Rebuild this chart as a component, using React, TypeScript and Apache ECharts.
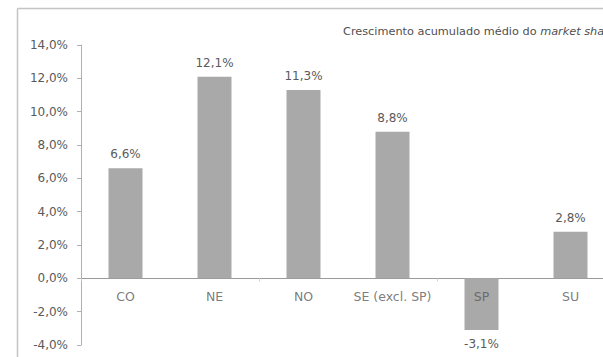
import React, { useEffect, useRef } from "react";
import * as echarts from "echarts";

const categories = ["CO", "NE", "NO", "SE (excl. SP)", "SP", "SU"];
const values = [6.6, 12.1, 11.3, 8.8, -3.1, 2.8];
const titleNormal = "Crescimento acumulado médio do ";
const titleItalic = "market share";

const FONT = "DejaVu Sans, Liberation Sans, sans-serif";
const fmt = (v: number) => v.toFixed(1).replace(".", ",") + "%";

export default function App() {
  const ref = useRef<HTMLDivElement>(null);
  useEffect(() => {
    if (!ref.current) return;
    const chart = echarts.init(ref.current, undefined, { renderer: "svg" });
    chart.setOption({
      animation: false,
      backgroundColor: "#ffffff",
      textStyle: { fontFamily: FONT },
      grid: { left: 81, right: 25, top: 45, bottom: 12, containLabel: false, outerBoundsMode: "none" },
      graphic: [
        {
          type: "line",
          shape: { x1: 17.5, y1: 8.5, x2: 640, y2: 8.5 },
          style: { stroke: "#c4c4c4", lineWidth: 1.5 },
        },
        {
          type: "line",
          shape: { x1: 17.5, y1: 8.5, x2: 17.5, y2: 357 },
          style: { stroke: "#c4c4c4", lineWidth: 1.5 },
        },
        {
          type: "text",
          left: 343,
          top: 26,
          style: {
            text: "{n|" + titleNormal + "}{i|" + titleItalic + "}",
            rich: {
              n: { fontSize: 11.3, fill: "#505050", fontFamily: FONT },
              i: { fontSize: 11.3, fill: "#505050", fontStyle: "italic", fontFamily: FONT },
            },
          },
        },
      ],
      xAxis: {
        type: "category",
        data: categories,
        axisLine: { onZero: true, lineStyle: { color: "#9a9a9a", width: 1 } },
        axisTick: { show: true, length: 3, lineStyle: { color: "#cfcfcf" } },
        axisLabel: { show: false },
      },
      yAxis: {
        type: "value",
        min: -4,
        max: 14,
        interval: 2,
        splitLine: { show: false },
        axisLine: { show: true, lineStyle: { color: "#b0b0b0" } },
        axisTick: { show: true, length: 4, lineStyle: { color: "#b0b0b0" } },
        axisLabel: {
          color: "#5a5a5a",
          fontSize: 12,
          margin: 13,
          fontFamily: FONT,
          formatter: (v: number) => fmt(v),
        },
      },
      series: [
        {
          type: "bar",
          data: values.map((v) => ({
            value: v,
            label: { position: v < 0 ? "bottom" : "top" },
          })),
          barWidth: 34,
          itemStyle: { color: "#a9a9a9" },
          label: {
            show: true,
            color: "#5a5a5a",
            fontSize: 12,
            fontFamily: FONT,
            distance: 8,
            formatter: (p: any) => fmt(p.value),
          },
        },
        {
          type: "scatter",
          data: categories.map(() => 0),
          symbolSize: 0,
          silent: true,
          label: {
            show: true,
            position: "bottom",
            distance: 12,
            color: "#5a5a5a",
            fontSize: 12.5,
            fontFamily: FONT,
            formatter: (p: any) => p.name,
          },
        },
      ],
    });
    return () => chart.dispose();
  }, []);
  return (
    <div style={{ position: "fixed", left: 0, top: 0, width: 603, height: 357, overflow: "hidden", background: "#fff" }}>
      <div ref={ref} style={{ width: 640, height: 357 }} />
    </div>
  );
}
